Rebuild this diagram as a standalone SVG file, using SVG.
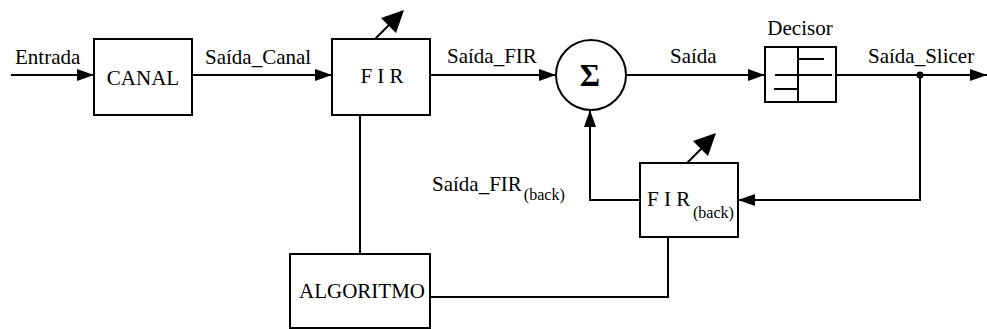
<svg xmlns="http://www.w3.org/2000/svg" width="987" height="329" viewBox="0 0 987 329">
<defs>
<marker id="ah" markerWidth="17" markerHeight="12" refX="17" refY="6" orient="auto" markerUnits="userSpaceOnUse" viewBox="0 0 17 12">
<path d="M0,0 L17,6 L0,12 Z" fill="#000"/>
</marker>
</defs>
<style>
.b{fill:#fff;stroke:#000;stroke-width:2}
.l{fill:none;stroke:#000;stroke-width:2}
.h{fill:#000;stroke:none}
text{font-family:'Liberation Serif','Times New Roman','DejaVu Serif',serif;font-size:21px;fill:#000}
.s{font-size:16px}
</style>
<rect width="987" height="329" fill="#fff"/>
<g id="connectors">
<line class="l" x1="11" y1="75" x2="94" y2="75" marker-end="url(#ah)"/>
<line class="l" x1="192" y1="75" x2="332" y2="75" marker-end="url(#ah)"/>
<line class="l" x1="430" y1="75" x2="556" y2="75" marker-end="url(#ah)"/>
<line class="l" x1="626" y1="75" x2="765" y2="75" marker-end="url(#ah)"/>
<line class="l" x1="836" y1="75" x2="987" y2="75" marker-end="url(#ah)"/>
<circle cx="920" cy="75" r="3.5" fill="#000"/>
<polyline class="l" points="920,75 920,200 738,200" marker-end="url(#ah)"/>
<polyline class="l" points="640,200 590,200 590,110" marker-end="url(#ah)"/>
<line class="l" x1="360" y1="115" x2="360" y2="254"/>
<polyline class="l" points="430,297 668,297 668,237"/>
<line class="l" x1="375" y1="39" x2="392" y2="22"/>
<polygon class="h" points="404,10 396,33 381,18"/>
<line class="l" x1="687" y1="163" x2="704" y2="146"/>
<polygon class="h" points="716,133 708,156 693,141"/>
</g>
<g id="labels">
<text x="15" y="64">Entrada</text>
<text x="205" y="64">Saída_Canal</text>
<text x="447" y="63">Saída_FIR</text>
<text x="670" y="63">Saída</text>
<text x="868" y="63">Saída_Slicer</text>
<text x="432" y="191">Saída_FIR<tspan class="s" dx="2" dy="9">(back)</tspan></text>
</g>
<g id="canal">
<rect class="b" x="94" y="39" width="98" height="76"/>
<text x="143" y="85" text-anchor="middle">CANAL</text>
</g>
<g id="fir">
<rect class="b" x="332" y="39" width="98" height="76"/>
<text x="382" y="83" text-anchor="middle">F I R</text>
</g>
<g id="sum">
<circle class="b" cx="591" cy="75" r="35"/>
<text x="590" y="86" text-anchor="middle" style="font-size:31px;font-weight:bold">Σ</text>
</g>
<g id="decisor">
<text x="800" y="35" text-anchor="middle">Decisor</text>
<rect class="b" x="765" y="47" width="71" height="55"/>
<line class="l" x1="798" y1="47" x2="798" y2="102"/>
<line class="l" x1="798" y1="59" x2="824" y2="59"/>
<line class="l" x1="775" y1="75" x2="832" y2="75"/>
<line class="l" x1="774" y1="89" x2="798" y2="89"/>
</g>
<g id="firback">
<rect class="b" x="640" y="163" width="98" height="74"/>
<text x="647" y="206">F I R</text>
<text class="s" x="693" y="218">(back)</text>
</g>
<g id="algoritmo">
<rect class="b" x="290" y="254" width="140" height="74"/>
<text x="299" y="298">ALGORITMO</text>
</g>
</svg>
